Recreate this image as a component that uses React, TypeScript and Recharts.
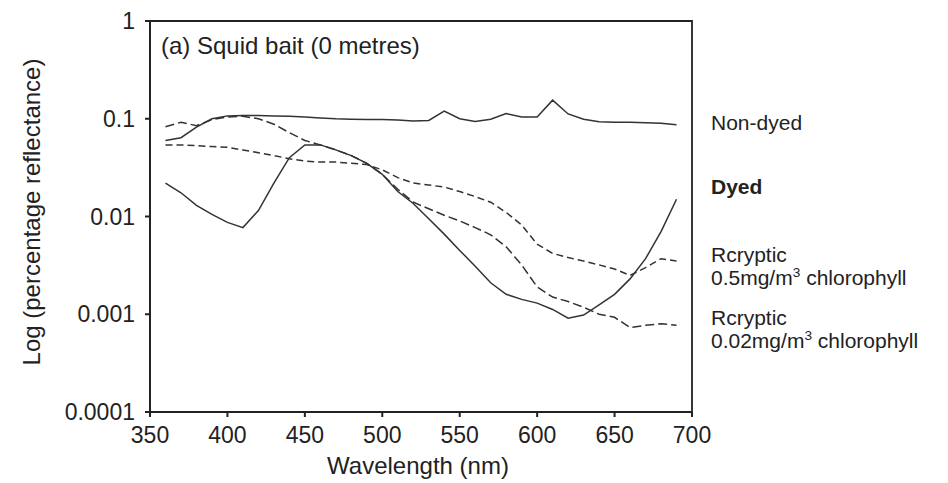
import React from "react";
import { LineChart, Line, XAxis, YAxis, ReferenceArea } from "recharts";

const wavelengths = [360, 370, 380, 390, 400, 410, 420, 430, 440, 450, 460, 470, 480, 490, 500, 510, 520, 530, 540, 550, 560, 570, 580, 590, 600, 610, 620, 630, 640, 650, 660, 670, 680, 690];

const nonDyed = [0.060, 0.064, 0.082, 0.100, 0.107, 0.108, 0.108, 0.107, 0.106, 0.104, 0.102, 0.100, 0.099, 0.098, 0.098, 0.097, 0.095, 0.096, 0.120, 0.100, 0.094, 0.099, 0.113, 0.104, 0.104, 0.155, 0.112, 0.099, 0.093, 0.092, 0.092, 0.091, 0.090, 0.087];

const dyed = [0.0220, 0.0175, 0.0130, 0.0105, 0.0087, 0.0077, 0.0115, 0.022, 0.040, 0.054, 0.054, 0.048, 0.042, 0.035, 0.027, 0.018, 0.0136, 0.0095, 0.0066, 0.0045, 0.0031, 0.0021, 0.00160, 0.00142, 0.00130, 0.00112, 0.00091, 0.00098, 0.00125, 0.00160, 0.0023, 0.0037, 0.0070, 0.0150];

const cryptic05 = [0.054, 0.054, 0.053, 0.052, 0.051, 0.048, 0.045, 0.042, 0.039, 0.037, 0.036, 0.036, 0.035, 0.034, 0.030, 0.025, 0.022, 0.021, 0.020, 0.018, 0.016, 0.014, 0.011, 0.0082, 0.0052, 0.0042, 0.0038, 0.0035, 0.0032, 0.0029, 0.0025, 0.0030, 0.0037, 0.0035];

const cryptic002 = [0.083, 0.092, 0.085, 0.098, 0.104, 0.106, 0.100, 0.088, 0.072, 0.060, 0.054, 0.048, 0.042, 0.035, 0.027, 0.019, 0.0140, 0.0120, 0.0103, 0.0090, 0.0077, 0.0065, 0.0049, 0.0032, 0.0019, 0.0015, 0.00135, 0.00118, 0.00100, 0.00093, 0.00073, 0.00077, 0.00080, 0.00077];

const xTicks = [350, 400, 450, 500, 550, 600, 650, 700];
const yTicks = [0.0001, 0.001, 0.01, 0.1, 1];

const data = wavelengths.map((w, i) => ({
  wl: w,
  nonDyed: nonDyed[i],
  dyed: dyed[i],
  c05: cryptic05[i],
  c002: cryptic002[i],
}));

const FONT = '"Liberation Sans", Arial, Helvetica, sans-serif';
const INK = "#222";
const LINE = "#333";

const textStyle: React.CSSProperties = {
  position: "absolute",
  fontFamily: FONT,
  color: INK,
  whiteSpace: "nowrap",
  fontSize: 21,
  lineHeight: "24px",
};

export default function App() {
  return (
    <div style={{ position: "absolute", left: 0, top: 0, width: 948, height: 483, background: "#fff" }}>
      <LineChart width={948} height={483} data={data} margin={{ top: 21, right: 256, bottom: 0, left: 0 }}>
        <XAxis
          dataKey="wl"
          type="number"
          domain={[350, 700]}
          ticks={xTicks}
          height={71}
          tickSize={5}
          tickMargin={10}
          stroke={INK}
          strokeWidth={2}
          tick={{ fill: INK, fontSize: 23, fontFamily: FONT }}
          allowDataOverflow
        />
        <YAxis
          type="number"
          scale="log"
          domain={[0.0001, 1]}
          ticks={yTicks}
          width={150}
          tickSize={5}
          tickMargin={10}
          stroke={INK}
          strokeWidth={2}
          tickFormatter={(v: number) => String(v)}
          tick={{ fill: INK, fontSize: 23, fontFamily: FONT }}
          allowDataOverflow
        />
        <ReferenceArea x1={350} x2={700} y1={0.0001} y2={1} fill="none" stroke={INK} strokeWidth={1.8} fillOpacity={0} ifOverflow="visible" />
        <Line dataKey="nonDyed" stroke={LINE} strokeWidth={1.5} dot={false} isAnimationActive={false} />
        <Line dataKey="dyed" stroke={LINE} strokeWidth={1.5} dot={false} isAnimationActive={false} />
        <Line dataKey="c05" stroke={LINE} strokeWidth={1.5} strokeDasharray="7 4" dot={false} isAnimationActive={false} />
        <Line dataKey="c002" stroke={LINE} strokeWidth={1.5} strokeDasharray="9 4" dot={false} isAnimationActive={false} />
      </LineChart>

      <div style={{ ...textStyle, left: 161, top: 34, fontSize: 24 }}>(a) Squid bait (0 metres)</div>

      <div style={{ ...textStyle, left: 711, top: 111 }}>Non-dyed</div>
      <div style={{ ...textStyle, left: 711, top: 175, fontWeight: "bold" }}>Dyed</div>
      <div style={{ ...textStyle, left: 711, top: 243, lineHeight: "23px" }}>
        Rcryptic
        <br />
        0.5mg/m<sup style={{ fontSize: "0.65em", lineHeight: 0 }}>3</sup> chlorophyll
      </div>
      <div style={{ ...textStyle, left: 711, top: 306, lineHeight: "23px" }}>
        Rcryptic
        <br />
        0.02mg/m<sup style={{ fontSize: "0.65em", lineHeight: 0 }}>3</sup> chlorophyll
      </div>

      <div style={{ ...textStyle, left: 418, top: 466, fontSize: 24, transform: "translate(-50%, -50%)" }}>Wavelength (nm)</div>
      <div style={{ ...textStyle, left: 32, top: 212, fontSize: 24, transform: "translate(-50%, -50%) rotate(-90deg)" }}>
        Log (percentage reflectance)
      </div>
    </div>
  );
}
